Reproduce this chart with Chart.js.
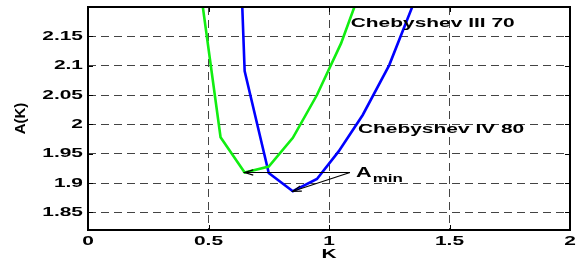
<!DOCTYPE html>
<html>
<head>
<meta charset="utf-8">
<script src="https://cdn.jsdelivr.net/npm/chart.js@4/dist/chart.umd.min.js"></script>
<style>
  html, body { margin: 0; padding: 0; background: #fff; }
  #wrap { width: 579px; height: 262px; position: relative; }
</style>
</head>
<body>
<div id="wrap"><canvas id="chart"></canvas></div>
<script>
// --- data ---
const kCheb3 = [0.45, 0.55, 0.65, 0.75, 0.85, 0.95, 1.05, 1.15];
const aCheb3 = [2.28, 1.978, 1.918, 1.928, 1.977, 2.05, 2.138, 2.25];

const kCheb4 = [0.55, 0.65, 0.75, 0.85, 0.95, 1.04, 1.14, 1.25, 1.35];
const aCheb4 = [3.2, 2.091, 1.917, 1.886, 1.907, 1.954, 2.016, 2.101, 2.205];

const xTicks = [0, 0.5, 1, 1.5, 2];
const yTicks = [1.85, 1.9, 1.95, 2, 2.05, 2.1, 2.15];

// curve labels (data coords)
const labels = [
    { text: 'Chebyshev III 70', k: 1.09, a: 2.172 },
    { text: 'Chebyshev IV 80', k: 1.12, a: 1.992 }
];
const aminAnchor = { k: 1.087, a: 1.918 };
const aminTargets = [
    { k: 0.65, a: 1.918 },
    { k: 0.85, a: 1.886 }
];

const FONT = '"Liberation Sans", Arial, sans-serif';
const SX = 1.55; // the source figure is stretched sideways, text included

const toXY = (ks, as) => ks.map((k, i) => ({ x: k, y: as[i] }));

// stretch horizontal text the same way as the figure
const canvas = document.getElementById('chart');
const ctx2d = canvas.getContext('2d');
const rawFill = CanvasRenderingContext2D.prototype.fillText;
ctx2d.fillText = function (text, x, y) {
    const m = this.getTransform();
    if (Math.abs(m.b) > 1e-6) return rawFill.call(this, text, x, y);
    this.save();
    this.translate(x, y);
    this.scale(SX, 1);
    rawFill.call(this, text, 0, 0);
    this.restore();
};

// frame, inner ticks, arrows and text annotations
const annotate = {
    id: 'annotate',
    afterDatasetsDraw(chart) {
        const { ctx, chartArea: ca, scales: { x, y } } = chart;
        ctx.save();

        // curve labels
        ctx.fillStyle = '#000';
        ctx.font = 'bold 13.5px ' + FONT;
        ctx.textBaseline = 'middle';
        ctx.textAlign = 'left';
        labels.forEach(l => ctx.fillText(l.text, x.getPixelForValue(l.k), y.getPixelForValue(l.a)));

        // A_min arrows
        const ax = x.getPixelForValue(aminAnchor.k);
        const ay = y.getPixelForValue(aminAnchor.a);
        ctx.strokeStyle = '#000';
        ctx.lineWidth = 1.2;
        aminTargets.forEach(t => {
            const tx = x.getPixelForValue(t.k);
            const ty = y.getPixelForValue(t.a);
            ctx.beginPath();
            ctx.moveTo(ax, ay);
            ctx.lineTo(tx, ty);
            ctx.stroke();
            const ang = Math.atan2(ay - ty, ax - tx);
            const hl = 9, hw = 0.3;
            ctx.beginPath();
            ctx.moveTo(tx + hl * Math.cos(ang + hw), ty + hl * Math.sin(ang + hw));
            ctx.lineTo(tx, ty);
            ctx.lineTo(tx + hl * Math.cos(ang - hw), ty + hl * Math.sin(ang - hw));
            ctx.stroke();
        });

        // A_min text
        const tx = ax + 6;
        ctx.font = 'bold 14px ' + FONT;
        ctx.textBaseline = 'alphabetic';
        ctx.fillText('A', tx, ay + 5);
        const w = ctx.measureText('A').width * SX;
        ctx.font = 'bold 11px ' + FONT;
        ctx.fillText('min', tx + w + 1, ay + 10);

        // axes frame with inward ticks
        ctx.lineWidth = 2;
        ctx.strokeRect(ca.left, ca.top, ca.right - ca.left, ca.bottom - ca.top);
        ctx.lineWidth = 1;
        ctx.beginPath();
        yTicks.forEach(v => {
            const py = Math.round(y.getPixelForValue(v)) + 0.5;
            ctx.moveTo(ca.right, py); ctx.lineTo(ca.right - 5, py);
            ctx.moveTo(ca.left, py); ctx.lineTo(ca.left + 5, py);
        });
        xTicks.forEach(v => {
            const px = Math.round(x.getPixelForValue(v)) + 0.5;
            ctx.moveTo(px, ca.top); ctx.lineTo(px, ca.top + 5);
            ctx.moveTo(px, ca.bottom); ctx.lineTo(px, ca.bottom - 5);
        });
        ctx.stroke();
        ctx.restore();
    }
};

new Chart(canvas, {
    type: 'line',
    data: {
        datasets: [
            {
                label: 'Chebyshev III 70',
                data: toXY(kCheb3, aCheb3),
                borderColor: '#11ee11',
                borderWidth: 2.6,
                pointRadius: 0,
                tension: 0,
                clip: 0
            },
            {
                label: 'Chebyshev IV 80',
                data: toXY(kCheb4, aCheb4),
                borderColor: '#0000ff',
                borderWidth: 2.6,
                pointRadius: 0,
                tension: 0,
                clip: 0
            }
        ]
    },
    options: {
        responsive: true,
        maintainAspectRatio: false,
        animation: false,
        layout: { autoPadding: false, padding: { top: 7, right: 9, left: 0, bottom: 0 } },
        plugins: {
            legend: { display: false },
            tooltip: { enabled: false }
        },
        scales: {
            x: {
                type: 'linear',
                min: 0,
                max: 2,
                afterBuildTicks: s => { s.ticks = xTicks.map(v => ({ value: v })); },
                afterFit: s => { s.height = 32; s.paddingLeft = 0; s.paddingRight = 0; },
                ticks: {
                    color: '#000',
                    font: { family: FONT, size: 13.5, weight: 'bold' },
                    padding: 3,
                    maxRotation: 0,
                    autoSkip: false,
                    callback: v => String(v)
                },
                grid: { color: '#444', lineWidth: 1, drawTicks: false },
                border: { display: false, dash: [8, 5] },
                title: {
                    display: true,
                    text: 'K',
                    color: '#000',
                    font: { family: FONT, size: 13.5, weight: 'bold' },
                    padding: { top: -3, bottom: 0 }
                }
            },
            y: {
                min: 1.82,
                max: 2.2,
                afterBuildTicks: s => { s.ticks = yTicks.map(v => ({ value: v })); },
                afterFit: s => { s.width = 88; s.paddingTop = 0; s.paddingBottom = 0; },
                ticks: {
                    color: '#000',
                    font: { family: FONT, size: 13.5, weight: 'bold' },
                    padding: 5,
                    autoSkip: false,
                    callback: v => String(Math.round(v * 100) / 100)
                },
                grid: { color: '#444', lineWidth: 1, drawTicks: false },
                border: { display: false, dash: [8, 5] },
                title: {
                    display: true,
                    text: 'A(K)',
                    color: '#000',
                    font: { family: FONT, size: 15, weight: 'bold' },
                    padding: { top: 12, bottom: 0 }
                }
            }
        }
    },
    plugins: [annotate]
});
</script>
</body>
</html>
